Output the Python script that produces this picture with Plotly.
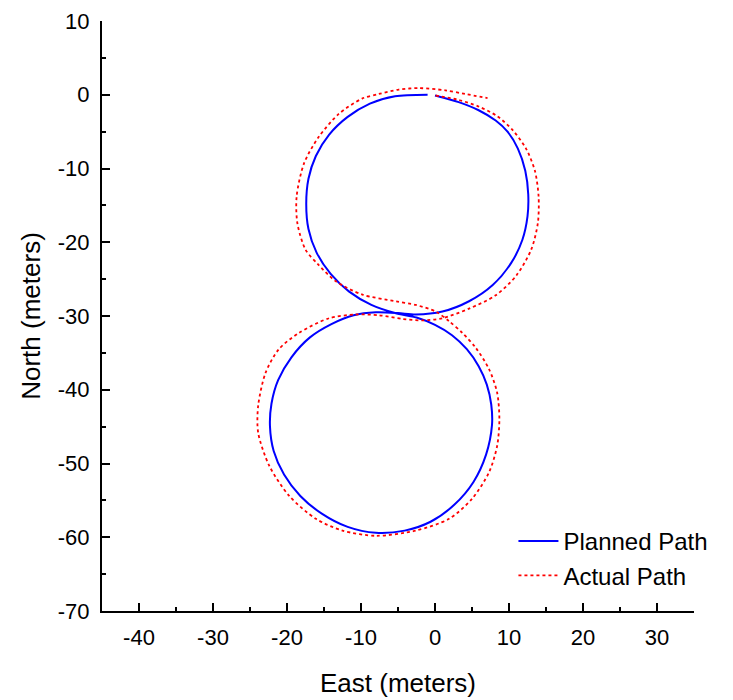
import plotly.graph_objects as go

# planned path (metres)
planned_east = [0.0, 3.2, 5.9, 8.2, 9.8, 11.2, 12.2, 12.6, 12.5, 11.8, 10.3, 7.8, 4.6, 1.0,
                -2.6, -5.0, -8.0, -11.0, -14.0, -16.9, -19.4, -21.2, -22.1, -22.3, -21.8,
                -20.4, -18.2, -15.3, -11.8, -8.0, -4.1, -0.6, 2.6, 5.2, 6.9, 7.7, 7.6, 7.0,
                5.9, 4.3, 2.3, 0.0, -2.5, -5.4, -8.6, -11.6, -14.1, -16.0, -17.1, -17.4,
                -17.1, -16.1, -14.3, -11.8, -8.8, -5.4, -1.0]
planned_north = [-0.1, -1.0, -2.1, -3.5, -5.0, -7.3, -10.3, -13.5, -16.5, -19.7, -22.8,
                 -25.8, -28.0, -29.4, -29.8, -29.6, -29.5, -29.9, -31.1, -32.9, -35.6,
                 -38.7, -41.9, -45.0, -48.3, -51.5, -54.4, -56.8, -58.6, -59.4, -59.1,
                 -57.9, -55.6, -52.5, -48.8, -44.8, -42.0, -39.3, -36.8, -34.5, -32.6,
                 -31.2, -30.2, -29.6, -28.5, -26.7, -24.3, -21.4, -18.2, -14.8, -11.4,
                 -8.3, -5.4, -3.0, -1.2, -0.2, 0.0]

# actual path (metres)
actual_east = [0.1, 3.2, 5.9, 8.4, 10.5, 12.3, 13.5, 14.0, 13.9, 13.0, 11.0, 8.2, 4.6,
               1.0, -1.7, -4.4, -7.6, -10.7, -14.3, -18.4, -21.1, -22.9, -23.9, -23.9,
               -22.4, -19.7, -16.1, -12.5, -8.0, -2.6, 1.9, 5.0, 7.3, 8.4, 8.7, 8.4, 7.3,
               5.5, 3.7, 1.9, 0.1, -2.6, -5.3, -9.8, -13.4, -15.8, -17.5, -18.6, -18.7,
               -17.7, -15.7, -13.0, -9.8, -7.6, -4.9, -2.2, 1.4, 4.1, 7.1]
actual_north = [-0.1, -0.7, -1.6, -2.9, -4.8, -7.3, -10.3, -13.8, -17.4, -21.0, -24.5,
                -27.2, -29.0, -30.3, -30.6, -30.4, -29.9, -29.8, -30.3, -32.3, -34.5,
                -37.7, -42.2, -45.8, -50.3, -54.4, -57.5, -59.1, -59.8, -59.1, -57.5,
                -54.8, -51.2, -47.6, -44.0, -40.4, -37.2, -34.3, -32.3, -30.7, -29.4,
                -28.5, -28.0, -27.1, -25.3, -23.0, -21.0, -17.4, -13.8, -9.3, -5.7, -2.6,
                -0.5, 0.1, 0.7, 0.9, 0.6, 0.1, -0.45]

x_ticks = [-40, -30, -20, -10, 0, 10, 20, 30]
y_ticks = [10, 0, -10, -20, -30, -40, -50, -60, -70]

FONT = 'Liberation Sans, Arial, sans-serif'

fig = go.Figure()
fig.add_trace(go.Scatter(x=planned_east, y=planned_north, mode='lines', name='Planned Path',
                         line=dict(color='#0000ff', width=2, shape='spline', smoothing=0.8)))
fig.add_trace(go.Scatter(x=actual_east, y=actual_north, mode='lines', name='Actual Path',
                         line=dict(color='#ff0000', width=1.8, dash='dot', shape='spline', smoothing=0.8)))

axis_style = dict(showgrid=False, zeroline=False, showline=True, linewidth=2, linecolor='black',
                  ticks='inside', ticklen=8, tickwidth=2, tickcolor='black',
                  ticklabelstandoff=6, automargin=False, ticklabeloverflow='allow',
                  tickfont=dict(size=22, color='black', family=FONT),
                  minor=dict(dtick=5, tick0=0, ticks='inside', ticklen=4, tickwidth=2,
                             tickcolor='black', showgrid=False))

fig.update_xaxes(range=[-45, 35], tickvals=x_ticks, ticktext=[str(v) for v in x_ticks],
                 title=dict(text='East (meters)', standoff=24,
                            font=dict(size=26, color='black', family=FONT)), **axis_style)
fig.update_yaxes(range=[-70, 10], tickvals=y_ticks, ticktext=[str(v) for v in y_ticks],
                 title=dict(text='North (meters)', standoff=10,
                            font=dict(size=26, color='black', family=FONT)), **axis_style)

fig.update_layout(
    width=733, height=700,
    plot_bgcolor='white', paper_bgcolor='white',
    font=dict(family=FONT, color='black'),
    margin=dict(l=94, r=47, t=13, b=97),
    legend=dict(x=0.695, y=0.022, xanchor='left', yanchor='bottom', itemwidth=40,
                bgcolor='rgba(0,0,0,0)', font=dict(size=24, family=FONT, color='black'),
                tracegroupgap=0),
)

fig.write_html("out.html")
